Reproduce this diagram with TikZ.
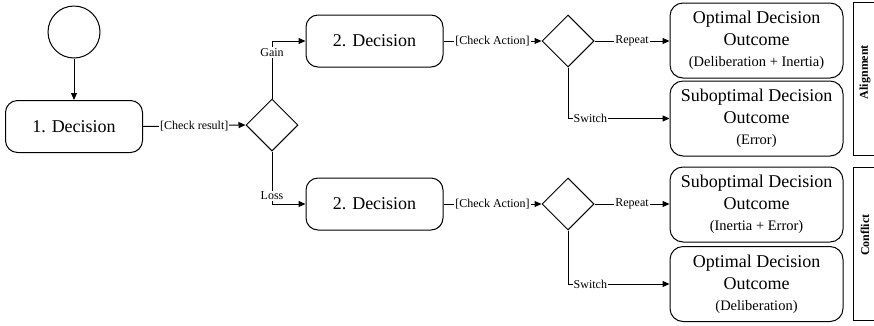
\documentclass[tikz,border=0pt]{standalone}
\usepackage{fontspec}
\setmainfont{Liberation Serif}
\usetikzlibrary{shapes.geometric,arrows.meta,positioning}
\newcommand\smalltxt{\fontsize{14.5}{21}\selectfont}
\begin{document}
\begin{tikzpicture}[x=1pt,y=-1pt,line width=1pt,
  decbox/.style={draw,rounded corners=12pt,minimum width=137pt,minimum height=52pt,
    inner sep=0pt,font=\fontsize{18}{22}\selectfont},
  outbox/.style={draw,rounded corners=13pt,minimum width=173pt,minimum height=75pt,
    inner sep=0pt,align=center,font=\fontsize{18}{22}\selectfont},
  gate/.style={draw,diamond,aspect=1,minimum width=52pt,minimum height=52pt,inner sep=0pt},
  startnode/.style={draw,circle,minimum size=52pt,inner sep=0pt},
  flow/.style={-{Triangle[length=7pt,width=6pt]}},
  lbl/.style={fill=white,inner sep=1pt,font=\fontsize{12}{13}\selectfont},
  side/.style={rotate=90,font=\bfseries\fontsize{12}{14}\selectfont}]
\useasboundingbox (0,0) rectangle (874,325);

% start and first decision
\node[startnode] (start) at (74,32) {};
\node[decbox] (dec1) at (74,126.5) {1. Decision};
\node[gate] (g1) at (272,125) {};

% second decisions
\node[decbox] (dec2a) at (374.5,41) {2. Decision};
\node[decbox] (dec2b) at (374.5,204) {2. Decision};
\node[gate] (g2a) at (568,41) {};
\node[gate] (g2b) at (568,204) {};

% outcomes
\node[outbox] (oa1) at (756.5,40.5) {Optimal Decision\\Outcome\\[-1pt]{\smalltxt (Deliberation + Inertia)}};
\node[outbox] (oa2) at (756.5,118.5) {Suboptimal Decision\\Outcome\\[-1pt]{\smalltxt (Error)}};
\node[outbox] (ob1) at (756.5,204.5) {Suboptimal Decision\\Outcome\\[-1pt]{\smalltxt (Inertia + Error)}};
\node[outbox] (ob2) at (756.5,284) {Optimal Decision\\Outcome\\[-1pt]{\smalltxt (Deliberation)}};

% connectors
\draw[flow] (start) -- (dec1);
\draw[flow] (dec1.east) -- node[lbl] {[Check result]} (g1.west);
\draw[flow] (g1.north) |- node[lbl,pos=0.4] {Gain} (dec2a.west);
\draw[flow] (g1.south) |- node[lbl,pos=0.42] {Loss} (dec2b.west);

\draw[flow] (dec2a.east) -- node[lbl] {[Check Action]} (g2a.west);
\draw[flow] (dec2b.east) -- node[lbl] {[Check Action]} (g2b.west);

\draw[flow] (g2a.east) -- node[lbl] {Repeat} (g2a.east -| oa1.west);
\draw[flow] (g2a.south) |- node[lbl,pos=0.61] {Switch} (oa2.west);
\draw[flow] (g2b.east) -- node[lbl] {Repeat} (g2b.east -| ob1.west);
\draw[flow] (g2b.south) |- node[lbl,pos=0.61] {Switch} (ob2.west);

% group brackets
\draw (875,2) -- (853,2) -- (853,155) -- (875,155);
\draw (875,167) -- (853,167) -- (853,320) -- (875,320);
\node[side] (align) at (865,72) {Alignment};
\node[side] (confl) at (865,235) {Conflict};
\end{tikzpicture}
\end{document}
